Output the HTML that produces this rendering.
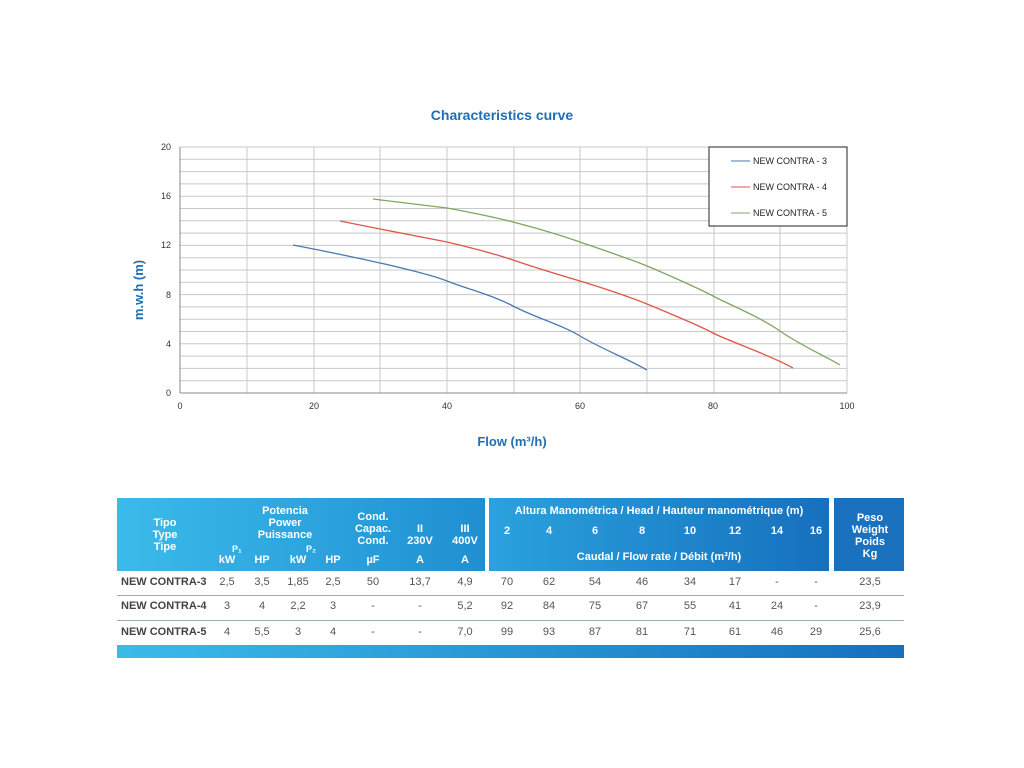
<!DOCTYPE html>
<html><head><style>
body{margin:0;width:1024px;height:768px;background:#fff;font-family:"Liberation Sans","DejaVu Sans",sans-serif;position:relative;overflow:hidden}
.abs{position:absolute}
.h{color:#fff;font-weight:bold;font-size:11px;text-align:center;line-height:12px}
.c{color:#555;font-size:11px;text-align:center}
</style></head><body>
<svg class="abs" style="left:0;top:0" width="1024" height="480">
<text x="502" y="120" text-anchor="middle" font-size="14" font-weight="bold" fill="#1f6fb5" font-family="Liberation Sans">Characteristics curve</text>
<g stroke="#c8c8c8" stroke-width="1">
<line x1="180" y1="147" x2="847" y2="147"/><line x1="180" y1="159.3" x2="847" y2="159.3"/><line x1="180" y1="171.6" x2="847" y2="171.6"/><line x1="180" y1="183.9" x2="847" y2="183.9"/><line x1="180" y1="196.2" x2="847" y2="196.2"/><line x1="180" y1="208.5" x2="847" y2="208.5"/><line x1="180" y1="220.8" x2="847" y2="220.8"/><line x1="180" y1="233.1" x2="847" y2="233.1"/><line x1="180" y1="245.4" x2="847" y2="245.4"/><line x1="180" y1="257.7" x2="847" y2="257.7"/><line x1="180" y1="270" x2="847" y2="270"/><line x1="180" y1="282.3" x2="847" y2="282.3"/><line x1="180" y1="294.6" x2="847" y2="294.6"/><line x1="180" y1="306.9" x2="847" y2="306.9"/><line x1="180" y1="319.2" x2="847" y2="319.2"/><line x1="180" y1="331.5" x2="847" y2="331.5"/><line x1="180" y1="343.8" x2="847" y2="343.8"/><line x1="180" y1="356.1" x2="847" y2="356.1"/><line x1="180" y1="368.4" x2="847" y2="368.4"/><line x1="180" y1="380.7" x2="847" y2="380.7"/>
<line x1="247" y1="147" x2="247" y2="393"/><line x1="314" y1="147" x2="314" y2="393"/><line x1="380" y1="147" x2="380" y2="393"/><line x1="447" y1="147" x2="447" y2="393"/><line x1="514" y1="147" x2="514" y2="393"/><line x1="580" y1="147" x2="580" y2="393"/><line x1="647" y1="147" x2="647" y2="393"/><line x1="714" y1="147" x2="714" y2="393"/><line x1="780" y1="147" x2="780" y2="393"/><line x1="847" y1="147" x2="847" y2="393"/>
</g>
<line x1="180" y1="147" x2="180" y2="393" stroke="#888"/><line x1="180" y1="393" x2="847" y2="393" stroke="#888"/>
<g font-size="9" fill="#333" text-anchor="end" font-family="Liberation Sans">
<text x="171" y="150">20</text><text x="171" y="199">16</text><text x="171" y="248">12</text><text x="171" y="298">8</text><text x="171" y="347">4</text><text x="171" y="396">0</text></g>
<g font-size="9" fill="#333" text-anchor="middle" font-family="Liberation Sans">
<text x="180" y="409">0</text><text x="314" y="409">20</text><text x="447" y="409">40</text><text x="580" y="409">60</text><text x="713" y="409">80</text><text x="847" y="409">100</text></g>
<text x="512" y="446" text-anchor="middle" font-size="13" font-weight="bold" fill="#1f6fb5" font-family="Liberation Sans">Flow (m³/h)</text>
<text transform="translate(143,290) rotate(-90)" text-anchor="middle" font-size="13" font-weight="bold" fill="#1f6fb5" font-family="Liberation Sans">m.w.h (m)</text>
<g fill="none" stroke-width="1.3">
<path d="M293,245 C340,254 380,263 380,263 S430,274 447,281 S490,294 513,306 S560,324 580,336 S630,360 647,370" stroke="#4a7ab0"/>
<path d="M340,221 L380,229 L447,242 S490,252 513,260 S560,275 580,281 S630,297 647,304 S700,326 713,333 S770,355 793,368" stroke="#e0554a"/>
<path d="M373,199 L447,208 S490,216 513,222 S560,235 580,242 S630,259 647,266 S700,289 713,296 S760,317 780,331 S825,356 840,365" stroke="#7fa563"/>
</g>
<rect x="709" y="147" width="138" height="79" fill="#fff" stroke="#222"/>
<g font-size="9" fill="#222" font-family="Liberation Sans">
<line x1="731" y1="161" x2="750" y2="161" stroke="#4a7ab0"/><text x="753" y="164">NEW CONTRA - 3</text>
<line x1="731" y1="187" x2="750" y2="187" stroke="#e0554a"/><text x="753" y="190">NEW CONTRA - 4</text>
<line x1="731" y1="213" x2="750" y2="213" stroke="#7fa563"/><text x="753" y="216">NEW CONTRA - 5</text>
</g>
</svg>
<div class="abs" style="left:117px;top:498px;width:368px;height:73px;background:linear-gradient(90deg,#3bbbea,#1f8fd2)"></div>
<div class="abs" style="left:489px;top:498px;width:340px;height:73px;background:linear-gradient(90deg,#2aa2de,#1670be)"></div>
<div class="abs" style="left:834px;top:498px;width:70px;height:73px;background:#1a72bf"></div>
<div class="abs" style="left:117px;top:645px;width:787px;height:13px;background:linear-gradient(90deg,#3bbbea,#1670be)"></div>
<div class="abs" style="left:117px;top:595px;width:787px;height:1px;background:#9ab"></div>
<div class="abs" style="left:117px;top:620px;width:787px;height:1px;background:#9ab"></div>
<div class="abs h" style="left:135px;top:517px;width:60px">Tipo<br>Type<br>Tipe</div>
<div class="abs h" style="left:240px;top:505px;width:90px">Potencia<br>Power<br>Puissance</div>
<div class="abs h" style="left:350px;top:511px;width:46px">Cond.<br>Capac.<br>Cond.</div>
<div class="abs h" style="left:405px;top:523px;width:30px">II<br>230V</div>
<div class="abs h" style="left:448px;top:523px;width:34px">III<br>400V</div>
<div class="abs h" style="left:232px;top:543px;font-size:9px">P₁</div>
<div class="abs h" style="left:306px;top:543px;font-size:9px">P₂</div>
<div class="abs h" style="left:840px;top:512px;width:60px">Peso<br>Weight<br>Poids<br>Kg</div>
<div class="abs h" style="left:489px;top:505px;width:340px">Altura Manométrica / Head / Hauteur manométrique (m)</div>
<div class="abs h" style="left:489px;top:551px;width:340px">Caudal / Flow rate / Débit (m³/h)</div>
<div id="t"></div>
<script>
var cols=[[227,"kW"],[262,"HP"],[298,"kW"],[333,"HP"],[373,"µF"],[420,"A"],[465,"A"]];
var hc=[507,549,595,642,690,735,777,816];
var h="";
cols.forEach(c=>h+=`<div class="abs h" style="left:${c[0]-20}px;top:554px;width:40px">${c[1]}</div>`);
[2,4,6,8,10,12,14,16].forEach((v,i)=>h+=`<div class="abs h" style="left:${hc[i]-20}px;top:525px;width:40px">${v}</div>`);
var rows=[["NEW CONTRA-3","2,5","3,5","1,85","2,5","50","13,7","4,9","70","62","54","46","34","17","-","-","23,5"],
["NEW CONTRA-4","3","4","2,2","3","-","-","5,2","92","84","75","67","55","41","24","-","23,9"],
["NEW CONTRA-5","4","5,5","3","4","-","-","7,0","99","93","87","81","71","61","46","29","25,6"]];
var ys=[576,600,626];
var xs=cols.map(c=>c[0]).concat(hc).concat([870]);
rows.forEach((r,j)=>{h+=`<div class="abs" style="left:121px;top:${ys[j]}px;font-size:11px;font-weight:bold;color:#444">${r[0]}</div>`;
r.slice(1).forEach((v,i)=>h+=`<div class="abs c" style="left:${xs[i]-25}px;top:${ys[j]}px;width:50px">${v}</div>`)});
document.getElementById("t").innerHTML=h;
</script>
</body></html>
